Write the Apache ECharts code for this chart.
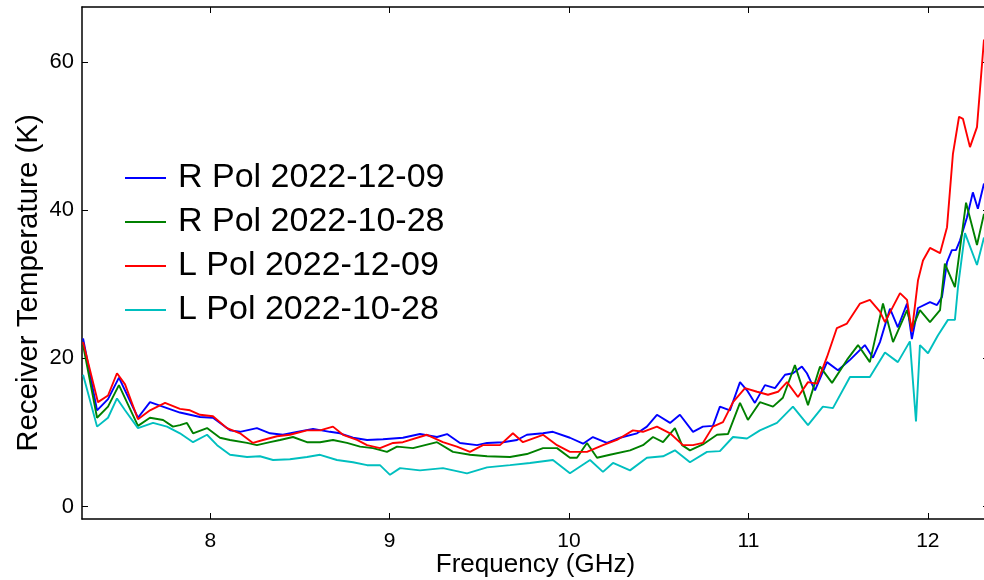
<!DOCTYPE html>
<html><head><meta charset="utf-8">
<script src="https://cdn.jsdelivr.net/npm/echarts@6/dist/echarts.min.js"></script>
<style>html,body{margin:0;padding:0;background:#fff}#c{width:984px;height:580px}</style>
</head><body><div id="c"></div>
<script>
var seriesNames = ['R Pol 2022-12-09', 'R Pol 2022-10-28', 'L Pol 2022-12-09', 'L Pol 2022-10-28'];
var xTicks = [8, 9, 10, 11, 12];
var yTicks = [0, 20, 40, 60];

var rPolDecFreq = [7.291,7.369,7.430,7.491,7.597,7.664,7.759,7.831,7.943,8.015,8.110,8.166,8.260,8.333,8.405,8.483,8.573,8.667,8.723,8.796,8.874,8.963,9.074,9.169,9.264,9.320,9.392,9.487,9.543,9.632,9.710,9.765,9.855,9.910,10.005,10.078,10.133,10.211,10.284,10.379,10.434,10.490,10.563,10.618,10.691,10.746,10.802,10.841,10.897,10.953,10.992,11.036,11.092,11.148,11.204,11.248,11.298,11.326,11.371,11.438,11.499,11.566,11.649,11.694,11.733,11.789,11.833,11.884,11.911,11.945,12.012,12.051,12.079,12.107,12.134,12.157,12.179,12.218,12.251,12.279,12.313];
var rPolDecTemp = [22.7,13.0,14.5,17.4,12.0,14.1,13.3,12.7,12.1,12.0,10.3,10.1,10.6,9.9,9.7,10.1,10.5,10.1,9.9,9.3,9.0,9.1,9.3,9.8,9.4,9.8,8.6,8.3,8.6,8.7,9.0,9.7,9.9,10.1,9.3,8.5,9.4,8.6,9.3,9.9,10.8,12.4,11.3,12.4,10.1,10.8,10.9,13.5,13.0,16.8,15.7,14.0,16.4,16.0,17.8,18.0,18.9,18.0,15.7,19.5,18.4,19.8,21.8,20.1,22.2,26.7,24.2,27.4,22.6,26.8,27.6,27.2,28.3,33.0,34.6,34.6,35.9,39.0,42.4,40.2,43.6];

var rPolOctFreq = [7.291,7.369,7.430,7.491,7.597,7.664,7.737,7.792,7.831,7.870,7.904,7.982,8.054,8.110,8.205,8.260,8.333,8.389,8.461,8.539,8.612,8.684,8.762,8.835,8.907,8.985,9.041,9.130,9.264,9.353,9.448,9.543,9.671,9.765,9.855,9.933,10.005,10.044,10.100,10.156,10.228,10.340,10.412,10.468,10.524,10.590,10.630,10.674,10.746,10.825,10.886,10.953,10.997,11.064,11.137,11.192,11.259,11.332,11.399,11.466,11.549,11.611,11.677,11.750,11.806,11.884,11.911,11.956,12.012,12.068,12.095,12.151,12.213,12.274,12.313];
var rPolOctTemp = [21.8,12.0,13.5,16.4,10.9,12.0,11.7,10.8,11.0,11.3,9.9,10.6,9.3,9.0,8.6,8.3,8.7,9.0,9.4,8.7,8.7,9.0,8.6,8.1,7.9,7.4,8.1,7.9,8.7,7.4,7.0,6.8,6.7,7.1,7.9,7.9,6.6,6.6,8.6,6.6,7.0,7.6,8.3,9.4,8.7,10.6,8.3,7.6,8.4,9.7,9.8,14.0,11.7,14.1,13.5,14.7,19.1,13.7,18.9,16.7,19.8,21.8,19.5,27.4,22.2,26.5,24.0,26.5,24.9,26.5,32.8,29.6,41.0,35.3,39.5];

var lPolDecFreq = [7.291,7.374,7.430,7.480,7.525,7.597,7.664,7.748,7.831,7.887,7.943,8.015,8.093,8.166,8.238,8.294,8.372,8.444,8.539,8.612,8.684,8.740,8.818,8.874,8.946,9.019,9.074,9.208,9.297,9.375,9.448,9.520,9.615,9.687,9.743,9.855,9.933,10.005,10.100,10.189,10.267,10.356,10.412,10.490,10.563,10.635,10.691,10.746,10.802,10.858,10.914,10.981,11.048,11.109,11.165,11.215,11.276,11.332,11.382,11.438,11.493,11.549,11.622,11.677,11.733,11.761,11.845,11.884,11.911,11.945,11.973,12.012,12.068,12.107,12.140,12.174,12.196,12.235,12.274,12.313];
var lPolDecTemp = [22.2,14.1,15.0,18.0,16.5,11.8,13.0,14.0,13.2,13.0,12.4,12.2,10.6,9.9,8.6,9.0,9.5,9.7,10.3,10.3,10.8,9.7,9.0,8.3,7.9,8.6,8.7,9.7,8.7,8.1,7.4,8.3,8.3,9.9,8.7,9.7,8.3,7.4,7.4,8.3,9.0,10.3,10.1,10.8,9.9,8.3,8.3,8.6,10.8,11.4,14.1,16.0,15.5,15.1,15.5,16.8,14.8,16.8,16.6,20.2,24.1,24.7,27.4,27.9,26.3,24.9,28.8,27.9,23.6,30.5,33.2,34.9,34.2,37.7,47.6,52.6,52.3,48.5,51.2,63.0];

var lPolOctFreq = [7.291,7.369,7.430,7.480,7.525,7.597,7.681,7.759,7.831,7.904,7.982,8.038,8.110,8.205,8.277,8.350,8.444,8.539,8.612,8.706,8.796,8.874,8.946,9.002,9.058,9.169,9.297,9.431,9.543,9.671,9.782,9.910,10.005,10.117,10.189,10.245,10.340,10.434,10.524,10.590,10.674,10.769,10.841,10.914,10.992,11.064,11.159,11.248,11.332,11.415,11.471,11.566,11.677,11.761,11.833,11.900,11.934,11.956,12.001,12.056,12.112,12.151,12.168,12.207,12.274,12.313];
var lPolOctTemp = [17.8,10.8,12.0,14.6,13.0,10.6,11.3,10.8,9.9,8.7,9.7,8.3,7.0,6.7,6.8,6.3,6.4,6.7,7.0,6.3,6.0,5.6,5.6,4.3,5.2,4.9,5.2,4.5,5.3,5.6,5.9,6.3,4.5,6.3,4.7,5.9,4.9,6.6,6.8,7.6,6.0,7.4,7.5,9.4,9.2,10.3,11.3,13.5,11.0,13.5,13.3,17.5,17.5,20.8,19.5,22.3,11.5,21.8,20.7,23.1,25.2,25.2,29.6,36.9,32.6,36.3];

var colors = ['#0000ff', '#008000', '#ff0000', '#00bfbf'];
var freqs = [rPolDecFreq, rPolOctFreq, lPolDecFreq, lPolOctFreq];
var temps = [rPolDecTemp, rPolOctTemp, lPolDecTemp, lPolOctTemp];

function zip(a, b) { var o = []; for (var i = 0; i < a.length; i++) o.push([a[i], b[i]]); return o; }

var sansA = '"Liberation Sans", Arial, Helvetica, sans-serif';
var X_MIN = 7.285, X_MAX = 12.341, Y_MIN = -1.66, Y_MAX = 67.4;

var axisLineStyle = { color: '#000', width: 1.5 };
function xAx(pos, showLabel) {
  return {
    type: 'value', position: pos, min: X_MIN, max: X_MAX,
    splitLine: { show: false },
    axisLine: { show: true, onZero: false, lineStyle: axisLineStyle },
    axisTick: { show: true, inside: true, length: 6, lineStyle: { color: '#000', width: 1 }, customValues: xTicks },
    axisLabel: { show: showLabel, customValues: xTicks, color: '#000', fontFamily: sansA, fontSize: 21, margin: 12 },
    name: showLabel ? 'Frequency (GHz)' : '', nameLocation: 'middle', nameGap: 33, nameMoveOverlap: false,
    nameTextStyle: { color: '#000', fontFamily: sansA, fontSize: 26 }
  };
}
function yAx(pos, showLabel) {
  return {
    type: 'value', position: pos, min: Y_MIN, max: Y_MAX,
    splitLine: { show: false },
    axisLine: { show: true, onZero: false, lineStyle: axisLineStyle },
    axisTick: { show: true, inside: true, length: 6, lineStyle: { color: '#000', width: 1 }, customValues: yTicks },
    axisLabel: { show: showLabel, customValues: yTicks, color: '#000', fontFamily: sansA, fontSize: 22, margin: 8 },
    name: showLabel ? 'Receiver Temperature (K)' : '', nameLocation: 'middle', nameGap: 38, nameMoveOverlap: false,
    nameTextStyle: { color: '#000', fontFamily: sansA, fontSize: 29.5, padding: [0, 40, 0, 0] }
  };
}

var series = seriesNames.map(function (n, i) {
  return {
    name: n, type: 'line', xAxisIndex: 0, yAxisIndex: 0,
    data: zip(freqs[i], temps[i]),
    showSymbol: false, symbol: 'none', smooth: false,
    lineStyle: { color: colors[i], width: 1.9 },
    itemStyle: { color: colors[i] },
    emphasis: { disabled: true }
  };
});

var chart = echarts.init(document.getElementById('c'), null, { renderer: 'canvas' });
chart.setOption({
  animation: false,
  backgroundColor: '#fff',
  color: colors,
  grid: { left: 82, right: -5, top: 7, bottom: 61, containLabel: false, outerBoundsMode: 'none' },
  xAxis: [xAx('bottom', true), xAx('top', false)],
  yAxis: [yAx('left', true), yAx('right', false)],
  legend: {
    orient: 'vertical', left: 125, top: 158, padding: 0,
    itemWidth: 41, itemHeight: 2, itemGap: 4, icon: 'rect',
    textStyle: { color: '#000', fontFamily: sansA, fontSize: 34, lineHeight: 40, padding: [0, 0, 0, 7] },
    data: seriesNames
  },
  series: series
});
</script>
</body></html>
